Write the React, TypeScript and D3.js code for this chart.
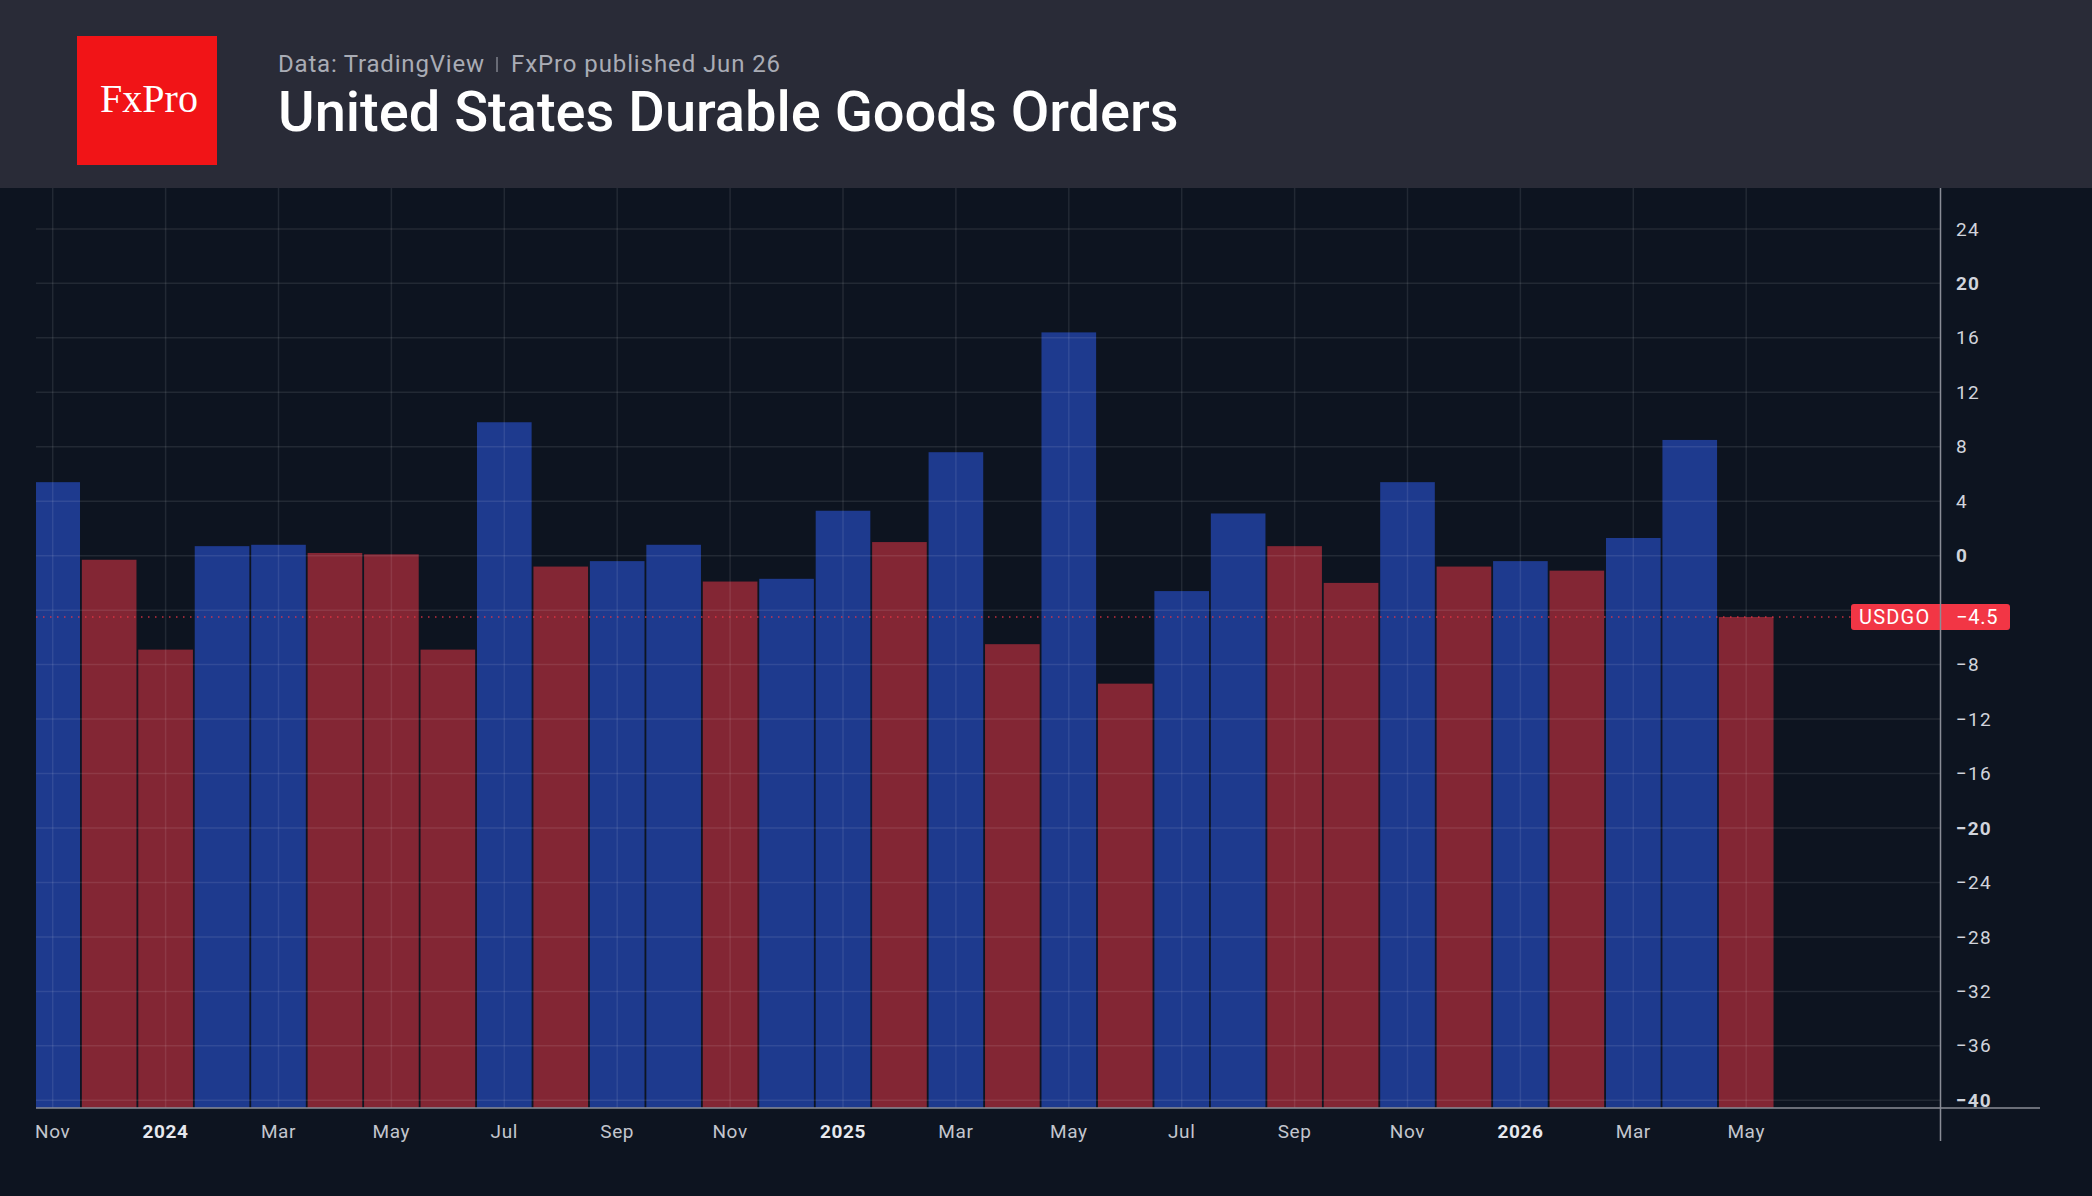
import { useEffect, useRef } from 'react';
import * as d3 from 'd3';

const months = [
  '2023-11', '2023-12', '2024-01', '2024-02', '2024-03', '2024-04', '2024-05', '2024-06',
  '2024-07', '2024-08', '2024-09', '2024-10', '2024-11', '2024-12', '2025-01', '2025-02',
  '2025-03', '2025-04', '2025-05', '2025-06', '2025-07', '2025-08', '2025-09', '2025-10',
  '2025-11', '2025-12', '2026-01', '2026-02', '2026-03', '2026-04', '2026-05'
];

const values = [
  5.4, -0.3, -6.9, 0.7, 0.8, 0.2, 0.1, -6.9,
  9.8, -0.8, -0.4, 0.8, -1.9, -1.7, 3.3, 1.0,
  7.6, -6.5, 16.4, -9.4, -2.6, 3.1, 0.7, -2.0,
  5.4, -0.8, -0.4, -1.1, 1.3, 8.5, -4.5
];

// one label every second month, starting at the first bar
const tickLabels = [
  'Nov', '2024', 'Mar', 'May', 'Jul', 'Sep', 'Nov', '2025',
  'Mar', 'May', 'Jul', 'Sep', 'Nov', '2026', 'Mar', 'May'
];

const yTicks = d3.range(-40, 25, 4);

const W = 2092;
const H = 1196;

export default function App() {
  const ref = useRef<SVGSVGElement | null>(null);

  useEffect(() => {
    const node = ref.current;
    if (!node) return;
    const svg = d3.select(node);
    svg.selectAll('*').remove();

    const font = 'Roboto, "Noto Sans", sans-serif';
    const plotLeft = 36;
    const plotRight = 1940.5;
    const plotTop = 188;
    const plotBottom = 1108;

    const y = d3.scaleLinear().domain([-40, 24]).range([1100.3, 228.9]);
    const baseValue = y.invert(plotBottom);

    const step = 56.45;
    const x0 = 52.7 - step / 2;
    const x = d3
      .scaleBand<string>()
      .domain(months)
      .range([x0, x0 + step * months.length])
      .paddingInner(0.032)
      .paddingOuter(0.016);
    const center = (m: string) => (x(m) ?? 0) + x.bandwidth() / 2;

    const last = values[values.length - 1];

    // backgrounds
    svg.append('rect').attr('width', W).attr('height', H).attr('fill', '#0d1420');
    svg.append('rect').attr('width', W).attr('height', plotTop).attr('fill', '#292b37');

    const defs = svg.append('defs');
    defs
      .append('clipPath')
      .attr('id', 'plot-clip')
      .append('rect')
      .attr('x', plotLeft)
      .attr('y', plotTop)
      .attr('width', plotRight - plotLeft)
      .attr('height', plotBottom - plotTop);

    const plot = svg.append('g').attr('clip-path', 'url(#plot-clip)');

    // bars
    plot
      .selectAll('.bar')
      .data(months)
      .join('rect')
      .attr('class', 'bar')
      .attr('x', (d) => x(d) ?? 0)
      .attr('width', x.bandwidth())
      .attr('y', (_, i) => y(values[i]))
      .attr('height', (_, i) => y(baseValue) - y(values[i]))
      .attr('fill', (_, i) => (i === 0 || values[i] >= values[i - 1] ? '#1e3a8e' : '#832634'));

    // grid, drawn over the bars so it shows through them
    plot
      .selectAll('.hgrid')
      .data(yTicks)
      .join('line')
      .attr('x1', plotLeft)
      .attr('x2', plotRight)
      .attr('y1', (d) => y(d))
      .attr('y2', (d) => y(d))
      .attr('stroke', 'rgba(255,255,255,0.09)')
      .attr('stroke-width', 1.5);

    const tickMonths = months.filter((_, i) => i % 2 === 0);
    plot
      .selectAll('.vgrid')
      .data(tickMonths)
      .join('line')
      .attr('x1', (d) => center(d))
      .attr('x2', (d) => center(d))
      .attr('y1', plotTop)
      .attr('y2', plotBottom)
      .attr('stroke', 'rgba(255,255,255,0.09)')
      .attr('stroke-width', 1.5);

    // last value dotted line
    svg
      .append('line')
      .attr('x1', plotLeft)
      .attr('x2', 1851)
      .attr('y1', y(last))
      .attr('y2', y(last))
      .attr('stroke', '#f23645')
      .attr('stroke-width', 1.5)
      .attr('stroke-dasharray', '1.5 5.5')
      .attr('opacity', 0.8);

    // axes lines
    svg
      .append('line')
      .attr('x1', plotLeft)
      .attr('x2', 2040)
      .attr('y1', plotBottom)
      .attr('y2', plotBottom)
      .attr('stroke', '#8a8d96')
      .attr('stroke-width', 1.5);

    // y tick labels (the one hidden under the price label is skipped)
    const labelTicks = yTicks.filter((d) => Math.abs(y(d) - y(last)) > 16);
    svg
      .selectAll('.ylab')
      .data(labelTicks)
      .join('text')
      .attr('x', 1956)
      .attr('y', (d) => y(d))
      .attr('dy', '0.35em')
      .attr('fill', '#d1d4dc')
      .attr('font-family', font)
      .attr('font-size', 19)
      .attr('letter-spacing', 1.2)
      .attr('font-weight', (d) => (d % 20 === 0 ? 700 : 400))
      .text((d) => (d < 0 ? `\u2212${Math.abs(d)}` : `${d}`));

    // x tick labels
    svg
      .selectAll('.xlab')
      .data(tickMonths)
      .join('text')
      .attr('x', (d) => center(d))
      .attr('y', 1138)
      .attr('text-anchor', 'middle')
      .attr('fill', (_, i) => (/^\d/.test(tickLabels[i]) ? '#e6e8ee' : '#c3c6ce'))
      .attr('font-family', font)
      .attr('font-size', 19)
      .attr('letter-spacing', 0.6)
      .attr('font-weight', (_, i) => (/^\d/.test(tickLabels[i]) ? 700 : 400))
      .text((_, i) => tickLabels[i]);

    // last value label
    const ly = y(last);
    svg
      .append('rect')
      .attr('x', 1851)
      .attr('y', ly - 13)
      .attr('width', 2010 - 1851)
      .attr('height', 26)
      .attr('rx', 3)
      .attr('fill', '#f23645');
    svg
      .append('text')
      .attr('x', 1859)
      .attr('y', ly)
      .attr('dy', '0.36em')
      .attr('fill', '#ffffff')
      .attr('font-family', font)
      .attr('font-size', 20)
      .attr('letter-spacing', 1.2)
      .text('USDGO');
    svg
      .append('text')
      .attr('x', 1956)
      .attr('y', ly)
      .attr('dy', '0.36em')
      .attr('fill', '#ffffff')
      .attr('font-family', font)
      .attr('font-size', 20)
      .attr('letter-spacing', 0.8)
      .text(`\u2212${Math.abs(last)}`);

    svg
      .append('line')
      .attr('x1', plotRight)
      .attr('x2', plotRight)
      .attr('y1', plotTop)
      .attr('y2', 1141)
      .attr('stroke', '#8a8d96')
      .attr('stroke-width', 1.5);

    // header
    svg.append('rect').attr('x', 77).attr('y', 36).attr('width', 140).attr('height', 129).attr('fill', '#f11417');
    svg
      .append('text')
      .attr('x', 149)
      .attr('y', 112)
      .attr('text-anchor', 'middle')
      .attr('fill', '#ffffff')
      .attr('font-family', '"Liberation Serif", "DejaVu Serif", serif')
      .attr('font-size', 40)
      .text('FxPro');

    svg
      .append('text')
      .attr('x', 278)
      .attr('y', 72)
      .attr('fill', '#a9acb5')
      .attr('font-family', font)
      .attr('font-size', 24)
      .attr('letter-spacing', 0.8)
      .text('Data: TradingView');
    svg
      .append('line')
      .attr('x1', 497)
      .attr('x2', 497)
      .attr('y1', 57)
      .attr('y2', 72)
      .attr('stroke', '#a9acb5')
      .attr('stroke-width', 1);
    svg
      .append('text')
      .attr('x', 511)
      .attr('y', 72)
      .attr('fill', '#a9acb5')
      .attr('font-family', font)
      .attr('font-size', 24)
      .attr('letter-spacing', 0.9)
      .text('FxPro published Jun 26');

    svg
      .append('text')
      .attr('x', 278)
      .attr('y', 131)
      .attr('fill', '#ffffff')
      .attr('font-family', font)
      .attr('font-size', 56)
      .attr('font-weight', 500)
      .text('United States Durable Goods Orders');
  }, []);

  return (
    <svg
      ref={ref}
      width={W}
      height={H}
      viewBox={`0 0 ${W} ${H}`}
      style={{ position: 'absolute', left: 0, top: 0, display: 'block' }}
    />
  );
}
